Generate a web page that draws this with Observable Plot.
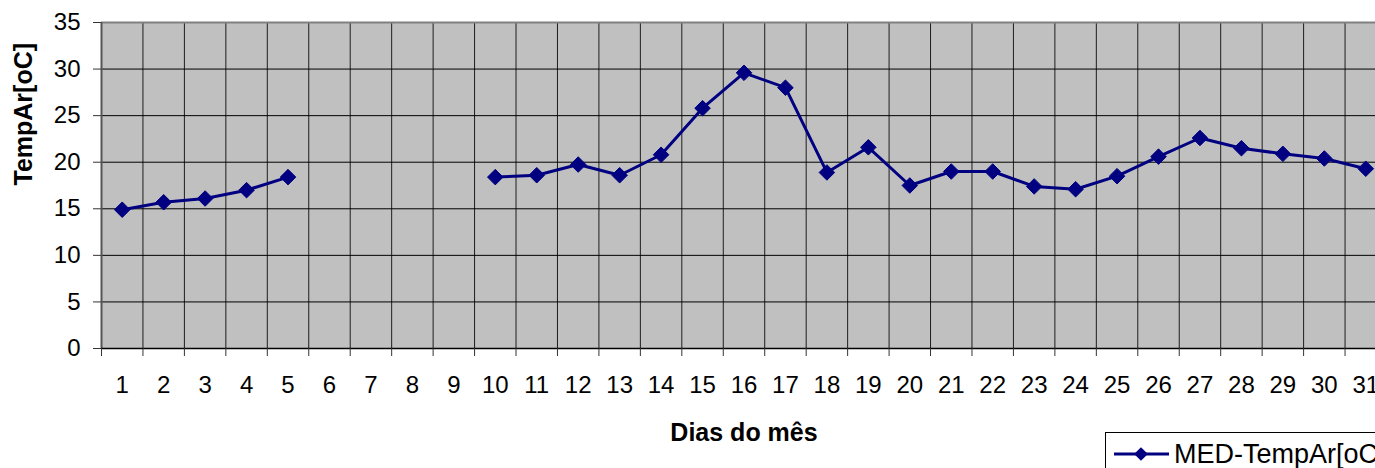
<!DOCTYPE html>
<html>
<head>
<meta charset="utf-8">
<script src="https://cdn.jsdelivr.net/npm/d3@7"></script>
<script src="https://cdn.jsdelivr.net/npm/@observablehq/plot@0.6"></script>
<style>
  html, body { margin: 0; padding: 0; background: #fff; overflow: hidden; width: 1375px; height: 468px; }
  #chart { position: absolute; left: 0; top: 0; width: 1386px; }
  #chart svg { max-width: none !important; }
  #legend { position: absolute; left: 1105px; top: 432px; width: 320px; height: 60px; border: 1px solid #000; background: #fff; box-sizing: border-box; }
  #legend svg { position: absolute; left: 0; top: 0; }
</style>
</head>
<body>
<div id="chart"></div>
<div id="legend"></div>
<script>
const days = d3.range(1, 32);
const temps = [14.9, 15.7, 16.1, 17.0, 18.4, null, null, null, null,
  18.4, 18.6, 19.75, 18.6, 20.8, 25.8, 29.6, 28.0, 18.9, 21.6, 17.5,
  19.0, 19.0, 17.4, 17.1, 18.5, 20.6, 22.6, 21.5, 20.9, 20.4, 19.3];
const yTicks = [0, 5, 10, 15, 20, 25, 30, 35];
const seriesName = "MED-TempAr[oC]";
const xTitle = "Dias do mês";
const yTitle = "TempAr[oC]";

const data = days.map((d, i) => ({day: d, t: temps[i] == null ? NaN : temps[i]}));
const bounds = d3.range(0.5, 32, 1);
const font = "'Liberation Sans', Arial, sans-serif";
const navy = "#000080";

const W = 1386, H = 468;
const chart = Plot.plot({
  width: W, height: H,
  marginLeft: 101, marginRight: 0, marginTop: 22, marginBottom: 120,
  style: {fontFamily: font, background: "transparent", overflow: "visible", maxWidth: "none"},
  x: {type: "linear", domain: [0.5, 31.5], axis: null},
  y: {type: "linear", domain: [0, 35], axis: null},
  marks: [
    Plot.frame({fill: "#c0c0c0", stroke: null}),
    Plot.ruleX(bounds.slice(1), {stroke: "#000", strokeWidth: 1, strokeOpacity: 0.85}),
    Plot.ruleY(yTicks.filter(d => d > 0 && d < 35), {stroke: "#000", strokeWidth: 1}),
    Plot.ruleY([35], {stroke: "#808080", strokeWidth: 2}),
    Plot.ruleX([0.5], {stroke: "#555", strokeWidth: 2}),
    Plot.ruleY([0], {stroke: "#000", strokeWidth: 1.5}),
    Plot.axisX({ticks: bounds, tickSize: 8, tickFormat: () => "", stroke: "#333", label: null}),
    Plot.axisY({ticks: yTicks, tickSize: 8, tickFormat: () => "", stroke: "#333", label: null}),
    Plot.text(days, {x: d => d, y: () => 0, dy: 37, text: d => String(d), fontSize: 24, fill: "#000", lineAnchor: "middle"}),
    Plot.text(yTicks, {x: () => 0.5, y: d => d, dx: -21, text: d => String(d), fontSize: 24, fill: "#000", textAnchor: "end", lineAnchor: "middle"}),
    Plot.line(data, {x: "day", y: "t", stroke: navy, strokeWidth: 3}),
    Plot.dot(data.filter(d => !isNaN(d.t)), {x: "day", y: "t", symbol: "diamond2", r: 7, fill: navy, stroke: navy, strokeWidth: 1}),
    Plot.text([xTitle], {frameAnchor: "bottom", dy: 84, text: d => d, fontSize: 25, fontWeight: "bold", fill: "#000", lineAnchor: "middle"}),
    Plot.text([yTitle], {frameAnchor: "left", dx: -78, rotate: -90, text: d => d, fontSize: 25, fontWeight: "bold", fill: "#000", lineAnchor: "middle"})
  ]
});
document.getElementById("chart").appendChild(chart);

// legend
const lg = d3.select("#legend").append("svg").attr("width", 320).attr("height", 60);
lg.append("line").attr("x1", 8).attr("x2", 63).attr("y1", 21).attr("y2", 21).attr("stroke", navy).attr("stroke-width", 3);
lg.append("path").attr("d", d3.symbol(d3.symbolDiamond2, 120)()).attr("transform", "translate(35,21)").attr("fill", navy);
lg.append("text").attr("x", 68).attr("y", 21).attr("dy", "0.35em").attr("font-family", font).attr("font-size", 27).attr("fill", "#000").text(seriesName);
</script>
</body>
</html>
